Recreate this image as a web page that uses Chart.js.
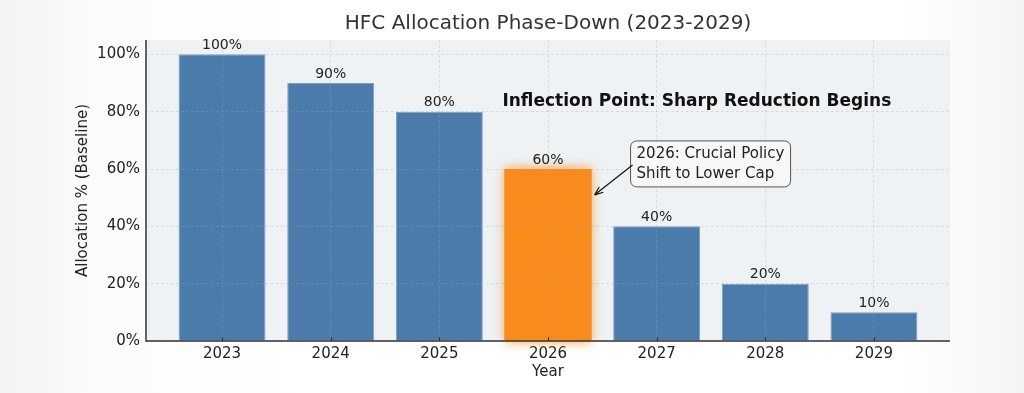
<!DOCTYPE html>
<html>
<head>
<meta charset="utf-8">
<script src="https://cdn.jsdelivr.net/npm/chart.js@4/dist/chart.umd.min.js"></script>
<style>
  html, body { margin: 0; padding: 0; }
  body {
    width: 1024px; height: 393px; overflow: hidden;
    background: linear-gradient(to right, #f3f3f3 0%, #fcfcfc 10%, #ffffff 30%, #ffffff 88%, #f4f4f4 100%);
  }
  #wrap { position: relative; width: 1024px; height: 393px; }
</style>
</head>
<body>
<div id="wrap"><canvas id="chartDiv"></canvas></div>
<script>
const years = ['2023', '2024', '2025', '2026', '2027', '2028', '2029']
const allocation = [100, 90, 80, 60, 40, 20, 10]
const highlightYear = '2026'
const yTicks = [0, 20, 40, 60, 80, 100]

const blue = '#4a7bab'
const orange = '#f78b1c'
const fontFamily = '"DejaVu Sans", Verdana, sans-serif'

// plot background
const plotBg = {
  id: 'plotBg',
  beforeDraw(chart) {
    const { ctx, chartArea: a } = chart
    ctx.save()
    ctx.fillStyle = '#eef2f5'
    ctx.fillRect(a.left, a.top, a.right - a.left, a.bottom - a.top)
    ctx.restore()
  }
}

// soft glow round the highlighted bar (bar.draw clips, so paint the glow by hand)
const glow = {
  id: 'glow',
  afterDatasetsDraw(chart) {
    const { ctx } = chart
    const idx = years.indexOf(highlightYear)
    const bar = chart.getDatasetMeta(0).data[idx]
    const { x, y, base, width } = bar.getProps(['x', 'y', 'base', 'width'], true)
    ctx.save()
    ctx.shadowColor = 'rgba(247, 139, 28, 0.9)'
    ctx.shadowBlur = 11
    ctx.fillStyle = orange
    ctx.fillRect(x - width / 2, y, width, base - y)
    ctx.restore()
    bar.draw(ctx)
  }
}

// axis lines, tick marks, value labels, annotations
const notes = {
  id: 'notes',
  afterDraw(chart) {
    const { ctx, chartArea: a, scales: { x, y } } = chart
    ctx.save()

    // spines
    ctx.strokeStyle = '#333'
    ctx.lineWidth = 1.5
    ctx.beginPath()
    ctx.moveTo(a.left, a.top)
    ctx.lineTo(a.left, a.bottom)
    ctx.lineTo(a.right, a.bottom)
    ctx.stroke()
    ctx.lineWidth = 1
    ctx.beginPath()
    years.forEach((_, i) => {
      const px = Math.round(x.getPixelForValue(i)) + 0.5
      ctx.moveTo(px, a.bottom)
      ctx.lineTo(px, a.bottom - 4)
    })
    ctx.stroke()

    ctx.fillStyle = '#222'
    ctx.font = '14px ' + fontFamily
    ctx.textAlign = 'center'
    ctx.textBaseline = 'bottom'
    chart.getDatasetMeta(0).data.forEach((bar, i) => {
      ctx.fillText(allocation[i] + '%', bar.x, bar.y - 2)
    })

    // headline note
    ctx.font = 'bold 17px ' + fontFamily
    ctx.fillStyle = '#111'
    ctx.textBaseline = 'middle'
    ctx.fillText('Inflection Point: Sharp Reduction Begins', x.getPixelForValue(4.37), y.getPixelForValue(83.5))

    // callout box
    const bx = x.getPixelForValue(3.76), by = y.getPixelForValue(69.8)
    const bw = 160, bh = 46
    ctx.beginPath()
    ctx.roundRect(bx, by, bw, bh, 6)
    ctx.fillStyle = 'rgba(246, 247, 248, 0.95)'
    ctx.fill()
    ctx.strokeStyle = '#555'
    ctx.lineWidth = 1
    ctx.stroke()
    ctx.fillStyle = '#222'
    ctx.font = '15px ' + fontFamily
    ctx.textAlign = 'left'
    ctx.fillText('2026: Crucial Policy', bx + 6, by + 13)
    ctx.fillText('Shift to Lower Cap', bx + 6, by + 33)

    // arrow
    const x0 = bx + 2, y0 = by + 24
    const x1 = x.getPixelForValue(3.43), y1 = y.getPixelForValue(51)
    ctx.strokeStyle = '#111'
    ctx.lineWidth = 1.2
    ctx.beginPath()
    ctx.moveTo(x0, y0)
    ctx.lineTo(x1, y1)
    ctx.stroke()
    const ang = Math.atan2(y1 - y0, x1 - x0)
    ctx.beginPath()
    ctx.moveTo(x1, y1)
    ctx.lineTo(x1 - 9 * Math.cos(ang - 0.38), y1 - 9 * Math.sin(ang - 0.38))
    ctx.moveTo(x1, y1)
    ctx.lineTo(x1 - 9 * Math.cos(ang + 0.38), y1 - 9 * Math.sin(ang + 0.38))
    ctx.stroke()
    ctx.restore()
  }
}

const chartElement = document.getElementById('chartDiv')

new Chart(chartElement, {
  type: 'bar',
  data: {
    datasets: [{
      label: 'Allocation',
      data: allocation.map((v, i) => ({ x: i, y: v })),
      backgroundColor: years.map(yr => yr === highlightYear ? orange : blue),
      borderColor: years.map(yr => yr === highlightYear ? orange : 'rgba(110, 150, 190, 0.9)'),
      borderWidth: 1,
      barPercentage: 0.8,
      categoryPercentage: 1.0,
    }]
  },
  options: {
    responsive: true,
    maintainAspectRatio: false,
    animation: false,
    layout: {
      padding: { left: 70, right: 74, top: 0, bottom: 8 }
    },
    scales: {
      x: {
        type: 'linear',
        min: -0.7,
        max: 6.7,
        offset: false,
        afterBuildTicks: scale => { scale.ticks = years.map((_, i) => ({ value: i })) },
        afterFit: scale => { scale.height = 44 },
        ticks: {
          callback: v => years[v],
          color: '#222',
          padding: 4,
          maxRotation: 0,
          font: { size: 15, family: fontFamily }
        },
        grid: {
          offset: false,
          drawTicks: false,
          color: 'rgba(160, 170, 180, 0.45)',
          lineWidth: 0.8,
          z: 1
        },
        border: { display: false, dash: [2.5, 2.5] },
        title: {
          display: true,
          text: 'Year',
          color: '#222',
          padding: { top: 0, bottom: 4 },
          font: { size: 15, family: fontFamily }
        }
      },
      y: {
        min: 0,
        max: 105,
        afterBuildTicks: scale => { scale.ticks = yTicks.map(v => ({ value: v })) },
        afterFit: scale => { scale.width = 76 },
        ticks: {
          callback: v => v + '%',
          color: '#222',
          padding: 6,
          font: { size: 15, family: fontFamily }
        },
        grid: {
          drawTicks: false,
          color: 'rgba(160, 170, 180, 0.45)',
          lineWidth: 0.8,
          z: 1
        },
        border: { display: false, dash: [2.5, 2.5] },
        title: {
          display: true,
          text: 'Allocation % (Baseline)',
          color: '#222',
          padding: { top: 4, bottom: 0 },
          font: { size: 15, family: fontFamily }
        }
      }
    },
    plugins: {
      title: {
        display: true,
        fullSize: false,
        text: 'HFC Allocation Phase-Down (2023-2029)',
        color: '#333',
        padding: { top: 12, bottom: 4 },
        font: { size: 20, weight: 'normal', family: fontFamily }
      },
      legend: { display: false },
      tooltip: { enabled: false }
    }
  },
  plugins: [plotBg, glow, notes]
});
</script>
</body>
</html>
